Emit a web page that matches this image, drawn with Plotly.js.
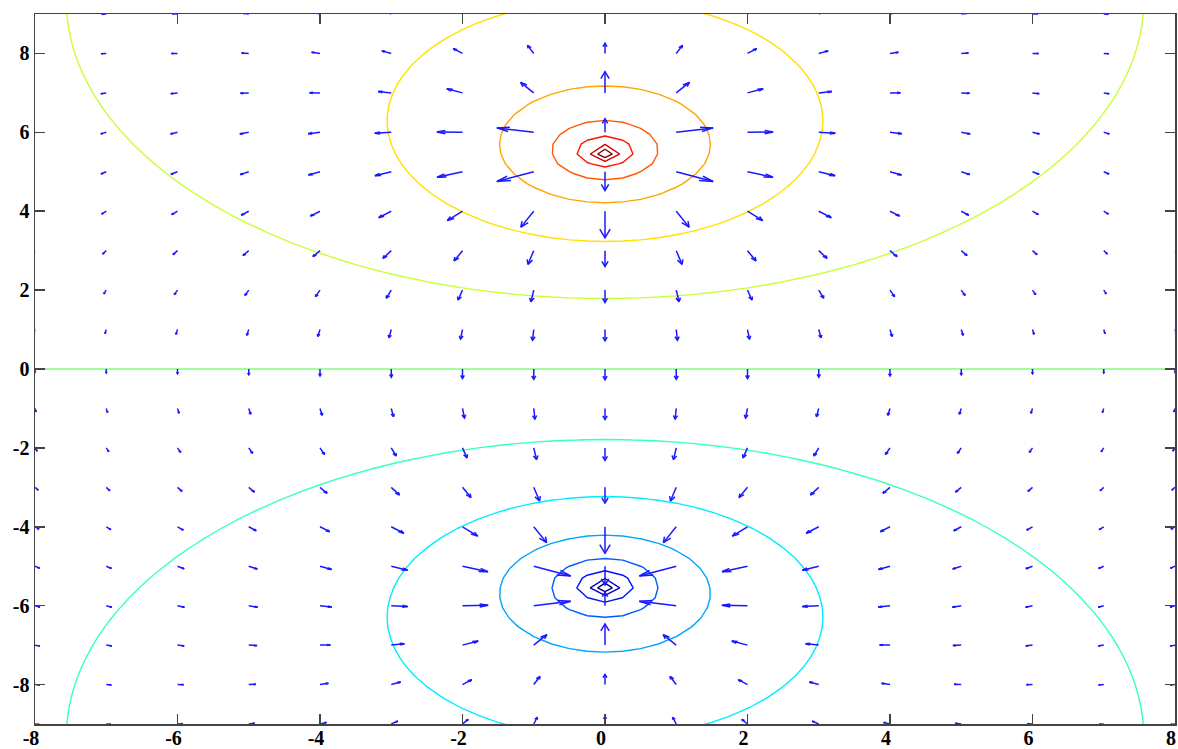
<!DOCTYPE html>
<html><head><meta charset="utf-8">
<script src="https://cdn.plot.ly/plotly-3.0.1.min.js"></script>
<style>html,body{margin:0;padding:0;background:#fff}#chart{width:1178px;height:749px}</style>
</head><body><div id="chart"></div>
<script>
// Two line charges (dipole): positions and signs
const chargeX = [0, 0];
const chargeY = [5.5, -5.5];
const chargeQ = [1, -1];

// Quiver sample grid
const arrowX = [-8,-7,-6,-5,-4,-3,-2,-1,0,1,2,3,4,5,6,7,8];
const arrowY = [-9,-8,-7,-6,-5,-4,-3,-2,-1,0,1,2,3,4,5,6,7,8,9];

// Equipotential levels and their colours (low -> high)
const contourLevels = [-4.725,-4.05,-3.375,-2.7,-2.025,-1.35,-0.675,0,0.675,1.35,2.025,2.7,3.375,4.05,4.725];
const levelColors = ['rgb(0,0,128)','rgb(0,0,200)','rgb(0,18,255)','rgb(0,91,255)','rgb(0,164,255)',
  'rgb(0,237,255)','rgb(55,255,200)','rgb(128,255,128)','rgb(200,255,55)','rgb(255,225,0)',
  'rgb(255,164,0)','rgb(255,91,0)','rgb(255,18,0)','rgb(200,0,0)','rgb(128,0,0)'];

const xTicks = [-8,-6,-4,-2,0,2,4,6,8];
const yTicks = [-8,-6,-4,-2,0,2,4,6,8];

function potential(x, y) {
  let v = 0;
  for (let i = 0; i < chargeX.length; i++) {
    const r = Math.hypot(x - chargeX[i], y - chargeY[i]);
    v -= chargeQ[i] * Math.log(r);
  }
  return v;
}

// contour sampling grid
const gx = [], gy = [];
for (let i = 0; i <= 64; i++) gx.push(-8 + 0.25 * i);
for (let j = 0; j <= 73; j++) gy.push(-9.05 + 0.25 * j);
const gz = gy.map(y => gx.map(x => potential(x, y)));

// quiver from numerical gradient
const V = arrowY.map(y => arrowX.map(x => potential(x, y)));
const nx = arrowX.length, ny = arrowY.length;
const arrowScale = 0.74, alpha = 0.33, beta = 0.33;
const qx = [], qy = [];
for (let j = 0; j < ny; j++) {
  for (let i = 0; i < nx; i++) {
    let dx, dy;
    if (i === 0) dx = (V[j][1] - V[j][0]) / (arrowX[1] - arrowX[0]);
    else if (i === nx - 1) dx = (V[j][i] - V[j][i-1]) / (arrowX[i] - arrowX[i-1]);
    else dx = (V[j][i+1] - V[j][i-1]) / (arrowX[i+1] - arrowX[i-1]);
    if (j === 0) dy = (V[1][i] - V[0][i]) / (arrowY[1] - arrowY[0]);
    else if (j === ny - 1) dy = (V[j][i] - V[j-1][i]) / (arrowY[j] - arrowY[j-1]);
    else dy = (V[j+1][i] - V[j-1][i]) / (arrowY[j+1] - arrowY[j-1]);
    const u = -dx * arrowScale, v = -dy * arrowScale;
    const x = arrowX[i], y = arrowY[j];
    const ex = x + u, ey = y + v;
    qx.push(x, ex, null);
    qy.push(y, ey, null);
    qx.push(ex - alpha * (u + beta * v), ex, ex - alpha * (u - beta * v), null);
    qy.push(ey - alpha * (v - beta * u), ey, ey - alpha * (v + beta * u), null);
  }
}

const cs = levelColors.map((c, k) => [k / (levelColors.length - 1), c]);

const traces = [
  {
    type: 'contour', x: gx, y: gy, z: gz,
    autocontour: false,
    contours: { start: contourLevels[0], end: contourLevels[contourLevels.length - 1],
                size: contourLevels[1] - contourLevels[0], coloring: 'lines' },
    colorscale: cs, showscale: false,
    line: { width: 1.4, smoothing: 0 },
    hoverinfo: 'skip'
  },
  {
    type: 'scatter', mode: 'lines', x: qx, y: qy,
    line: { color: 'rgb(25,25,255)', width: 1.5 },
    hoverinfo: 'skip', showlegend: false
  }
];

const axisCommon = {
  showgrid: false, zeroline: false, showline: true, mirror: 'allticks',
  linecolor: '#444', linewidth: 1.5, ticks: 'inside', ticklen: 10, tickwidth: 1.5, tickcolor: '#444',
  ticklabeloverflow: 'allow',
  tickfont: { family: 'Liberation Serif', size: 20, color: '#000', weight: 'bold' }
};

const layout = {
  width: 1178, height: 749,
  margin: { l: 35, r: 3, t: 14, b: 25 },
  paper_bgcolor: '#fff', plot_bgcolor: '#fff',
  showlegend: false,
  xaxis: Object.assign({}, axisCommon, { range: [-8, 8], tickmode: 'array', tickvals: xTicks,
    ticktext: xTicks.map(String), ticklabelshift: -4, ticklabelstandoff: -5 }),
  yaxis: Object.assign({}, axisCommon, { range: [-9, 9], tickmode: 'array', tickvals: yTicks,
    ticktext: yTicks.map(String) })
};

Plotly.newPlot('chart', traces, layout, { displayModeBar: false, staticPlot: true });
</script>
</body></html>
